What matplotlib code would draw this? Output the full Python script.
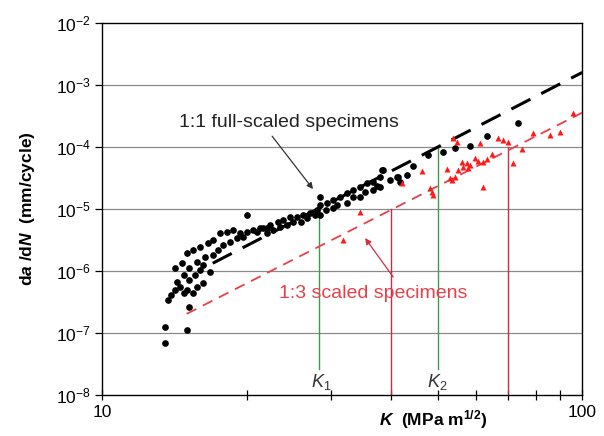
import numpy as np
import matplotlib
matplotlib.use("Agg")
import matplotlib.pyplot as plt
from matplotlib.ticker import FixedLocator, NullFormatter, FuncFormatter

plt.rcParams['font.family'] = ['Liberation Sans', 'DejaVu Sans']
plt.rcParams['mathtext.fontset'] = 'custom'
plt.rcParams['mathtext.rm'] = 'Liberation Sans'
plt.rcParams['mathtext.it'] = 'Liberation Sans:italic'
plt.rcParams['mathtext.bf'] = 'Liberation Sans:bold'
plt.rcParams['mathtext.bfit'] = 'Liberation Sans:italic:bold'

# 1:1 full-scaled specimens (K in MPa m^1/2, da/dN in mm/cycle)
k_full = [13.5, 13.5, 15.0, 15.2,
          13.7, 13.9, 14.2, 14.3, 14.2, 14.7, 15.0, 15.5, 16.0, 16.6, 17.0, 17.6,
          18.2, 18.7, 19.4, 20.0, 20.6, 21.3, 22.1,
          14.5, 14.8, 15.0, 15.5, 15.8, 16.2, 15.2, 15.6, 16.0, 16.2, 16.8, 14.8,
          15.2, 15.8, 16.4, 17.0, 17.4, 17.9, 18.5, 19.1, 19.7,
          20.0,
          21.6, 22.4, 23.2, 23.8, 24.6, 25.5, 26.2, 27.1, 28.0, 28.5, 29.4, 30.3,
          31.3, 32.4, 33.3, 34.5, 35.6, 36.7, 37.9, 38.5, 39.8, 41.2, 41.8, 43.2,
          22.1, 23.5, 25.0, 26.7, 28.5, 30.3, 32.4, 34.5, 36.7, 28.5,
          21.0, 22.7, 24.3, 25.9, 27.8, 29.2, 30.9, 33.3, 35.3, 37.4,
          38.3, 37.9, 41.4, 44.5, 47.8, 51.3, 54.3, 58.4, 63.4, 73.6]
dadn_full = [1.25e-7, 6.9e-8, 1.12e-7, 2.6e-7,
             3.4e-7, 4.1e-7, 4.9e-7, 6.6e-7, 1.12e-6, 1.35e-6, 1.95e-6, 2.18e-6, 2.44e-6, 2.83e-6, 3.16e-6, 4.1e-6,
             4.26e-6, 4.58e-6, 4.1e-6, 4.26e-6, 4.58e-6, 4.94e-6, 4.94e-6,
             5.5e-7, 4.4e-7, 4.9e-7, 4.4e-7, 5.5e-7, 6.4e-7, 7.2e-7, 8.6e-7, 1.04e-6, 1.25e-6, 9.6e-7, 8.6e-7,
             1.12e-6, 1.4e-6, 1.68e-6, 1.81e-6, 2.18e-6, 2.63e-6, 2.94e-6, 3.4e-6, 3.53e-6,
             8.0e-6,
             4.94e-6, 5.52e-6, 6.17e-6, 6.65e-6, 7.43e-6, 7.43e-6, 8.0e-6, 8.6e-6, 9.6e-6, 1.16e-5, 1.25e-5, 1.4e-5,
             1.56e-5, 1.81e-5, 2.02e-5, 2.26e-5, 2.63e-5, 2.72e-5, 3.28e-5, 4.26e-5, 2.94e-5, 3.28e-5, 2.72e-5, 3.53e-5,
             4.1e-6, 5.13e-6, 6.17e-6, 7.16e-6, 8.0e-6, 1.04e-5, 1.25e-5, 1.56e-5, 2.02e-5, 1.56e-5,
             4.26e-6, 4.58e-6, 5.52e-6, 6.17e-6, 8.0e-6, 9.6e-6, 1.16e-5, 1.56e-5, 1.88e-5, 2.35e-5,
             4.26e-5, 2.26e-5, 3.28e-5, 4.94e-5, 7.43e-5, 8.3e-5, 9.6e-5, 1.04e-4, 1.5e-4, 2.44e-4]

# 1:3 scaled specimens
k_scaled = [31.8, 34.5, 42.2, 46.4, 48.2, 48.7, 48.9, 52.3, 53.1, 53.6, 54.3, 55.2,
            56.2, 56.5, 57.5, 57.9, 58.4, 59.8, 60.7, 62.2, 63.4, 62.2, 64.9, 61.3,
            53.8, 54.9, 66.8, 68.4, 70.1, 75.0, 71.8, 79.0, 85.7, 90.0, 95.7]
dadn_scaled = [3.16e-6, 8.95e-6, 2.63e-5, 4.1e-5, 2.18e-5, 1.88e-5, 1.68e-5, 4.42e-5, 3.16e-5, 2.94e-5, 3.28e-5, 4.26e-5,
               5.73e-5, 4.76e-5, 5.52e-5, 4.58e-5, 5.13e-5, 6.65e-5, 5.94e-5, 5.73e-5, 6.4e-5, 2.26e-5, 7.71e-5, 1.16e-4,
               1.4e-4, 1.21e-4, 1.4e-4, 1.3e-4, 1.21e-4, 9.3e-5, 5.52e-5, 1.68e-4, 1.56e-4, 1.75e-4, 3.6e-4]

# Paris-law fits: da/dN = C * K^m
fit_full = dict(C=1.6e-11, m=4.0, k_range=(17.0, 100.0))
fit_scaled = dict(C=4.74e-12, m=3.94, k_range=(15.0, 100.0))

# K1, K2 (green) and the two red reference lines: (K, top of line)
green_lines = [(28.3, 1.0e-5), (50.0, 1.0e-4)]
red_lines = [(40.0, 1.0e-5), (70.0, 1.0e-4)]

fig = plt.figure(figsize=(6.04, 4.36), dpi=100)
ax = fig.add_axes([0.169, 0.094, 0.795, 0.853])
ax.set_xscale('log')
ax.set_yscale('log')
ax.set_xlim(10, 100)
ax.set_ylim(1e-8, 1e-2)

for y in [1e-7, 1e-6, 1e-5, 1e-4, 1e-3]:
    ax.axhline(y, color='#8a8a8a', lw=0.9, zorder=1)

for kv, top in green_lines:
    ax.plot([kv, kv], [2.6e-8, top], color='#3f9a4a', lw=1.0, zorder=2)
for kv, top in red_lines:
    ax.plot([kv, kv], [1e-8, top], color='#c03048', lw=1.0, zorder=2)

kk = np.logspace(np.log10(fit_full['k_range'][0]), np.log10(fit_full['k_range'][1]), 50)
ax.plot(kk, fit_full['C'] * kk ** fit_full['m'], color='black', lw=2.2,
        dashes=(7, 4), zorder=3)
kk = np.logspace(np.log10(fit_scaled['k_range'][0]), np.log10(fit_scaled['k_range'][1]), 50)
ax.plot(kk, fit_scaled['C'] * kk ** fit_scaled['m'], color='#e8404a', lw=1.3,
        dashes=(6, 4), zorder=3)

ax.plot(k_full, dadn_full, 'o', color='black', ms=3.8, zorder=4)
ax.plot(k_scaled, dadn_scaled, '^', color='#ff1a1a', ms=5, mec='none', zorder=4)

# labels with arrows
ax.text(24.5, 2.5e-4, '1:1 full-scaled specimens', ha='center', va='center',
        fontsize=14, color='#222222')
ax.annotate('', xy=(27.5, 2.1e-5), xytext=(22.6, 1.5e-4),
            arrowprops=dict(arrowstyle='-|>', color='#333333', lw=0.9,
                            shrinkA=0, shrinkB=0, mutation_scale=9))
ax.text(36.7, 4.4e-7, '1:3 scaled specimens', ha='center', va='center',
        fontsize=14, color='#e8404a')
ax.annotate('', xy=(35.3, 3.4e-6), xytext=(40.4, 8.0e-7),
            arrowprops=dict(arrowstyle='-|>', color='#d03040', lw=0.9,
                            shrinkA=0, shrinkB=0, mutation_scale=9))

ax.text(28.6, 1.6e-8, r'$K_{\mathit{1}}$', ha='center', va='center', fontsize=13, color='#333333')
ax.text(50.0, 1.6e-8, r'$K_{\mathit{2}}$', ha='center', va='center', fontsize=13, color='#333333')

ax.xaxis.set_major_locator(FixedLocator([10, 100]))
ax.xaxis.set_minor_locator(FixedLocator([20, 30, 40, 50, 60, 70, 80, 90]))
ax.xaxis.set_major_formatter(FuncFormatter(lambda v, p: '%d' % v))
ax.xaxis.set_minor_formatter(NullFormatter())
ax.yaxis.set_major_locator(FixedLocator([1e-8, 1e-7, 1e-6, 1e-5, 1e-4, 1e-3, 1e-2]))
ax.yaxis.set_minor_locator(FixedLocator([]))
ax.yaxis.set_major_formatter(FuncFormatter(lambda v, p: r'$10^{%d}$' % round(np.log10(v))))

ax.tick_params(axis='x', which='both', direction='inout', length=7, width=0.9,
               labelsize=12.5, pad=4)
ax.tick_params(axis='y', which='major', direction='out', length=5, width=0.9,
               labelsize=12.5, pad=3)

for s in ax.spines.values():
    s.set_linewidth(1.0)

ax.set_xlabel(r'$\mathbfit{K}$  (MPa m$^{\mathbf{1/2}}$)', fontsize=12.5, fontweight='bold')
ax.xaxis.set_label_coords(0.69, -0.035)
ax.set_ylabel(r'd$\mathbfit{a}$ /d$\mathbfit{N}$  (mm/cycle)', fontsize=12.5, fontweight='bold')
ax.yaxis.set_label_coords(-0.135, 0.5)

fig.savefig('out.png', dpi=100)
